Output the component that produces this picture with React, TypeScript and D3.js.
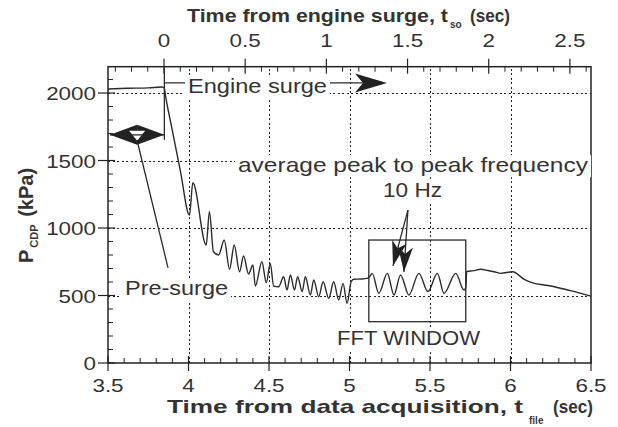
import React from "react";
import * as d3 from "d3";

// Compressor discharge pressure record around an engine surge event
const tFile = [3.50, 3.62, 3.75, 3.835, 3.85, 3.856, 3.90, 3.95, 4.006, 4.027, 4.110, 4.130, 4.155, 4.187, 4.222, 4.255, 4.284, 4.317, 4.342, 4.373, 4.400, 4.415, 4.456, 4.483, 4.508, 4.529, 4.560, 4.591, 4.612, 4.633, 4.658, 4.678, 4.706, 4.726, 4.757, 4.778, 4.809, 4.836, 4.871, 4.902, 4.933, 4.960, 4.985, 5.010, 5.027, 5.070, 5.110, 5.120, 5.141, 5.182, 5.235, 5.276, 5.317, 5.369, 5.431, 5.487, 5.546, 5.587, 5.660, 5.711, 5.722, 5.728, 5.770, 5.815, 5.860, 5.898, 5.940, 6.013, 6.085, 6.147, 6.210, 6.272, 6.355, 6.438, 6.500];
const pCdp = [2030, 2035, 2038, 2045, 2035, 1990, 1720, 1420, 1096, 1335, 874, 1121, 824, 800, 911, 694, 874, 676, 793, 659, 726, 570, 750, 595, 738, 570, 565, 639, 541, 652, 541, 639, 528, 639, 504, 615, 491, 602, 479, 602, 467, 590, 442, 602, 620, 622, 627, 632, 664, 516, 664, 504, 652, 504, 664, 530, 664, 516, 664, 541, 555, 678, 684, 694, 685, 676, 664, 676, 620, 590, 578, 565, 541, 516, 495];

const bottomTicks = [3.5, 4, 4.5, 5, 5.5, 6, 6.5];
const bottomTickLabels = ["3.5", "4", "4.5", "5", "5.5", "6", "6.5"];
const topTicks = [0, 0.5, 1, 1.5, 2, 2.5];
const topTickLabels = ["0", "0.5", "1", "1.5", "2", "2.5"];
const leftTicks = [0, 500, 1000, 1500, 2000];
const leftTickLabels = ["0", "500", "1000", "1500", "2000"];
const gridKPa = [500, 1000, 1500, 2000];
const gridTime = [4, 4.5, 5, 5.5, 6];

// annotation anchors in data units
const surgeTime = 3.85;
const surgeArrowKPa = 2075;
const surgeArrowEnd = 5.233;
const preSurgeSpan = [3.512, 3.85];
const preSurgeKPa = 1690;
const preSurgePointer = [[3.68, 1652], [3.873, 704]];
const fftWindowT = [5.12, 5.722];
const fftWindowKPa = [306, 911];
const hzApex = [5.363, 1133];
const hzTips = [[5.270, 719], [5.338, 674]];

const W = 618, H = 427;
const margin = { left: 108, right: 27, top: 66.7, bottom: 64 };
const FONT = "'Liberation Sans', Arial, Helvetica, sans-serif";
const INK = "#2b2b2b";
const TEXT = "#333";

const x = d3.scaleLinear().domain([3.5, 6.5]).range([margin.left, W - margin.right]);
const xTop = d3.scaleLinear().domain([-0.345, 2.63]).range([margin.left, W - margin.right]);
const y = d3.scaleLinear().domain([0, 2195]).range([H - margin.bottom, margin.top]);
const crisp = (v: number) => Math.round(v) + 0.5;

const near = (a: number, arr: number[]) => arr.some((b) => Math.abs(a - b) < 1e-6);
const bottomMinor = d3.range(35, 65).map((v) => v / 10).filter((v) => !near(v, bottomTicks));
const topMinor = d3.range(-3, 27).map((v) => v / 10).filter((v) => !near(v, topTicks));
const leftMinor = d3.range(0, 22).map((v) => v * 100).filter((v) => !near(v, leftTicks));

function arrowHead(x1: number, y1: number, x2: number, y2: number, len: number, hw: number, notch: number) {
  const dx = x2 - x1, dy = y2 - y1;
  const d = Math.hypot(dx, dy);
  const ux = dx / d, uy = dy / d;
  const px = -uy, py = ux;
  const bx = x2 - ux * len, by = y2 - uy * len;
  const nx = x2 - ux * (len - notch), ny = y2 - uy * (len - notch);
  return `M${x2},${y2}L${bx + px * hw},${by + py * hw}L${nx},${ny}L${bx - px * hw},${by - py * hw}Z`;
}

function Label(props: { x: number; y: number; w: number; size: number; bold?: boolean; bg?: boolean; children: React.ReactNode }) {
  const { x: tx, y: ty, w, size, bold, bg, children } = props;
  return (
    <g>
      {bg && <rect x={tx - 3} y={ty - size * 0.8} width={w + 6} height={size * 1.05} fill="#fff" />}
      <text x={tx} y={ty} fontSize={size} fontWeight={bold ? 700 : 400} fill={TEXT}
        textLength={w} lengthAdjust="spacingAndGlyphs" fontFamily={FONT}>{children}</text>
    </g>
  );
}

function TickText(props: { x: number; y: number; anchor: "start" | "middle" | "end"; children: React.ReactNode }) {
  return (
    <text transform={`translate(${props.x},${props.y}) scale(1.18,1)`} textAnchor={props.anchor}
      fontSize={19} fill={TEXT} fontFamily={FONT}>{props.children}</text>
  );
}

export default function App() {
  const line = d3.line<number>().x((_, i) => x(tFile[i])).y((d) => y(d)).curve(d3.curveMonotoneX);
  const x0 = margin.left, x1 = W - margin.right, y0 = H - margin.bottom, y1 = margin.top;

  const dsY = y(preSurgeKPa);
  const dsL = x(preSurgeSpan[0]), dsR = x(preSurgeSpan[1]);
  const dsM = (dsL + dsR) / 2;

  return (
    <svg width={W} height={H} style={{ position: "absolute", left: 0, top: 0, background: "#fff" }}>
      {/* dotted grid */}
      <g stroke="#222" strokeWidth={1.6} strokeDasharray="2 2.5" fill="none" shapeRendering="crispEdges">
        {gridKPa.map((v) => (
          <line key={"gy" + v} x1={x0} x2={x1} y1={crisp(y(v))} y2={crisp(y(v))} />
        ))}
        {gridTime.map((v) => (
          <line key={"gx" + v} x1={crisp(x(v))} x2={crisp(x(v))} y1={y0} y2={y1} />
        ))}
      </g>

      {/* frame */}
      <rect x={x0} y={y1} width={x1 - x0} height={y0 - y1} fill="none" stroke="#222" strokeWidth={1.5} />

      {/* bottom axis */}
      {bottomTicks.map((v) => <line key={"bt" + v} x1={x(v)} x2={x(v)} y1={y0 - 7} y2={y0 + 8} stroke="#222" strokeWidth={1.2} />)}
      {bottomMinor.map((v) => <line key={"bm" + v} x1={x(v)} x2={x(v)} y1={y0 - 5} y2={y0} stroke="#222" strokeWidth={1} />)}
      {bottomTicks.map((v, i) => <TickText key={"bl" + v} x={x(v)} y={392} anchor="middle">{bottomTickLabels[i]}</TickText>)}

      {/* top axis */}
      {topTicks.map((v) => <line key={"tt" + v} x1={xTop(v)} x2={xTop(v)} y1={y1 - 8} y2={y1 + 7} stroke="#222" strokeWidth={1.2} />)}
      {topMinor.map((v) => <line key={"tm" + v} x1={xTop(v)} x2={xTop(v)} y1={y1} y2={y1 + 5} stroke="#222" strokeWidth={1} />)}
      {topTicks.map((v, i) => <TickText key={"tl" + v} x={xTop(v)} y={47} anchor="middle">{topTickLabels[i]}</TickText>)}

      {/* left axis */}
      {leftTicks.map((v) => <line key={"lt" + v} x1={x0 - 10} x2={x0 + 7} y1={y(v)} y2={y(v)} stroke="#222" strokeWidth={1.2} />)}
      {leftMinor.map((v) => <line key={"lm" + v} x1={x0} x2={x0 + 5} y1={y(v)} y2={y(v)} stroke="#222" strokeWidth={1} />)}
      {leftTicks.map((v, i) => <TickText key={"ll" + v} x={96} y={y(v) + 7} anchor="end">{leftTickLabels[i]}</TickText>)}

      {/* axis titles */}
      <Label x={187} y={22} w={261} size={19} bold>Time from engine surge, t</Label>
      <text x={450} y={28} fontSize={10} fontWeight={700} fill={TEXT} fontFamily={FONT}>so</text>
      <Label x={470} y={22} w={40} size={19} bold>(sec)</Label>

      <Label x={167} y={413} w={356} size={19} bold>Time from data acquisition, t</Label>
      <text x={529} y={424} fontSize={10} fontWeight={700} fill={TEXT} fontFamily={FONT}>file</text>
      <Label x={553} y={413} w={40} size={19} bold>(sec)</Label>

      <text transform="translate(33,263) rotate(-90)" fontSize={20} fontWeight={700} fill={TEXT} fontFamily={FONT}>
        P<tspan fontSize={11} dy={5} dx={2}>CDP</tspan><tspan dy={-5} dx={2}> (kPa)</tspan>
      </text>

      {/* engine surge marker */}
      <line x1={x(surgeTime)} x2={x(surgeTime)} y1={y1} y2={dsY + 5} stroke={INK} strokeWidth={1.3} />
      <line x1={x(surgeTime)} x2={x(surgeArrowEnd) - 20} y1={y(surgeArrowKPa)} y2={y(surgeArrowKPa)} stroke={INK} strokeWidth={1.3} />
      <path d={arrowHead(x(surgeTime), y(surgeArrowKPa), x(surgeArrowEnd), y(surgeArrowKPa), 32, 9.5, 8)} fill="#222" />

      {/* pre-surge double arrow */}
      <path d={`M${dsL},${dsY}L${dsM},${dsY - 10}L${dsM},${dsY + 10}Z`} fill="#222" />
      <path d={`M${dsR},${dsY}L${dsM},${dsY - 10}L${dsM},${dsY + 10}Z`} fill="#222" />
      <path d={`M${dsM - 8},${dsY - 4}L${dsM + 8},${dsY - 4}L${dsM},${dsY + 6}Z`} fill="#fff" />
      <line x1={dsL} x2={dsR} y1={dsY} y2={dsY} stroke="#222" strokeWidth={1.2} />
      <line x1={x(preSurgePointer[0][0])} y1={y(preSurgePointer[0][1])} x2={x(preSurgePointer[1][0])} y2={y(preSurgePointer[1][1])} stroke={INK} strokeWidth={1.3} />

      {/* FFT window */}
      <rect x={x(fftWindowT[0])} y={y(fftWindowKPa[1])} width={x(fftWindowT[1]) - x(fftWindowT[0])}
        height={y(fftWindowKPa[0]) - y(fftWindowKPa[1])} fill="none" stroke={INK} strokeWidth={1.3} />

      {/* pressure trace */}
      <path d={line(pCdp) || ""} fill="none" stroke={INK} strokeWidth={1.4} strokeLinejoin="round" />

      {/* 10 Hz pointers */}
      {hzTips.map((tp, i) => (
        <g key={"hz" + i}>
          <line x1={x(hzApex[0])} y1={y(hzApex[1])} x2={x(tp[0])} y2={y(tp[1])} stroke={INK} strokeWidth={1.3} />
          <path d={arrowHead(x(hzApex[0]), y(hzApex[1]), x(tp[0]), y(tp[1]), 25, 7.5, 7)} fill="#222" />
        </g>
      ))}

      {/* annotation text */}
      <Label x={188} y={93} w={139} size={20} bg>Engine surge</Label>
      <Label x={238} y={172} w={350} size={21} bg>average peak to peak frequency</Label>
      <Label x={383} y={197} w={59} size={21} bg>10 Hz</Label>
      <Label x={125} y={295} w={103} size={21} bg>Pre-surge</Label>
      <Label x={337} y={345} w={143} size={20.5} bg>FFT WINDOW</Label>
    </svg>
  );
}
